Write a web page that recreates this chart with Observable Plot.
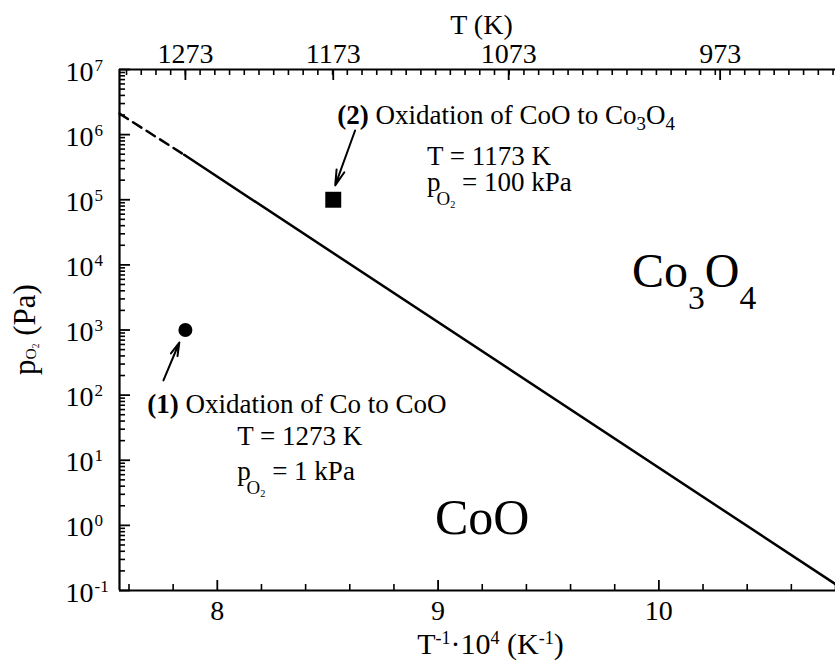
<!DOCTYPE html>
<html><head><meta charset="utf-8">
<script src="https://cdn.jsdelivr.net/npm/d3@7"></script>
<script src="https://cdn.jsdelivr.net/npm/@observablehq/plot@0.6"></script>
<style>
html,body{margin:0;padding:0;background:#fff;}
#chart svg{display:block;}
</style>
</head><body><div id="chart"></div>
<script>
// ---------------- data ----------------
// phase boundary CoO / Co3O4 : x = 10^4/T (1/K), y = pO2 (Pa)
const boundaryInvT = [7.85, 10.80];
const boundaryP    = [4.9e5, 0.125];
// dashed extrapolation of the boundary
const extrapInvT = [7.557, 7.85];
const extrapP    = [2.1e6, 4.9e5];
// oxidation experiments
const expT = [1273, 1173];      // K
const expP = [1e3, 1e5];        // Pa
// tick values
const xTickValues = [8, 9, 10];
const topTickT = [1273, 1173, 1073, 973];
const yExponents = [-1, 0, 1, 2, 3, 4, 5, 6, 7];
// arrows (data coordinates)
const arrowX1 = [7.756, 8.624];
const arrowY1 = [168, 1.156e6];
const arrowX2 = [7.828, 8.534];
const arrowY2 = [643, 1.66e5];
// annotation texts
const labelText = [
  "**(2)** Oxidation of CoO to Co_{3}O_{4}",
  "T = 1173 K",
  "p_{O}__{2} = 100 kPa",
  "**(1)** Oxidation of Co to CoO",
  "T = 1273 K",
  "p_{O}__{2} = 1 kPa",
  "CoO",
  "Co_{3}O_{4}"
];
const labelX = [8.543, 8.950, 8.950, 7.683, 8.090, 8.090, 8.986, 9.878];
const labelY = [1.48e6, 3.36e5, 1.34e5, 54, 16.9, 4.9, 0.75, 4500];
const labelSize = [27, 27, 27, 27, 27, 27, 50, 48];

const xTitle = "T^{-1}·10^{4} (K^{-1})";
const yTitle = "p_{O}__{2} (Pa)";
const topTitle = "T (K)";

// ---------------- layout ----------------
const W = 835, H = 667;
const mL = 119, mR = 0, mT = 69, mB = 77;
const frameW = W - mL - mR, frameH = H - mT - mB;
const FONT = "'Liberation Serif','Times New Roman',Times,serif";

const boundary = boundaryInvT.map((x, i) => ({x, y: boundaryP[i]}));
const extrap = extrapInvT.map((x, i) => ({x, y: extrapP[i]}));
const exps = expT.map((T, i) => ({x: 1e4 / T, y: expP[i]}));
const arrows = arrowX1.map((x1, i) => ({x1, y1: arrowY1[i], x2: arrowX2[i], y2: arrowY2[i]}));
const labels = labelText.map((t, i) => ({t, x: labelX[i], y: labelY[i], s: labelSize[i]}));

const xMinor = d3.range(38, 55).filter(k => k % 5 !== 0).map(k => k / 5);
const yMinor = [];
for (let e = -1; e <= 6; e++) for (let m = 2; m <= 9; m++) yMinor.push(m * 10 ** e);
const topStart = 1e4 / 1273;
const topMinor = d3.range(-4, 45).map(k => topStart + k / 15).filter(v => v > 7.56 && v < 10.8);

const chart = Plot.plot({
  width: W, height: H,
  marginLeft: mL, marginRight: mR, marginTop: mT, marginBottom: mB,
  x: {domain: [7.557, 10.80], axis: null},
  y: {type: "log", domain: [0.1, 1e7], axis: null},
  style: {fontFamily: FONT, background: "#fff", color: "#000", overflow: "visible"},
  marks: [
    // ticks (inward)
    Plot.ruleX(xTickValues, {x: d => d, insetTop: frameH - 10, stroke: "#000", strokeWidth: 1.8}),
    Plot.ruleX(xMinor, {x: d => d, insetTop: frameH - 6, stroke: "#000", strokeWidth: 1.6}),
    Plot.ruleX(topTickT, {x: d => 1e4 / d, insetBottom: frameH - 11, stroke: "#000", strokeWidth: 1.8}),
    Plot.ruleX(topMinor, {x: d => d, insetBottom: frameH - 6, stroke: "#000", strokeWidth: 1.6}),
    Plot.ruleY(yExponents, {y: d => 10 ** d, insetRight: frameW - 11, stroke: "#000", strokeWidth: 1.8}),
    Plot.ruleY(yMinor, {y: d => d, insetRight: frameW - 6, stroke: "#000", strokeWidth: 1.6}),
    // frame lines
    Plot.ruleY([0.1], {stroke: "#000", strokeWidth: 2.2}),
    Plot.ruleY([1e7], {stroke: "#000", strokeWidth: 2.2}),
    Plot.ruleX([7.557], {stroke: "#000", strokeWidth: 2.2}),
    // tick labels
    Plot.text(xTickValues, {x: d => d, frameAnchor: "bottom", dy: 29, lineAnchor: "bottom", text: d => String(d), fontSize: 28}),
    Plot.text(topTickT, {x: d => 1e4 / d, frameAnchor: "top", dy: -7, lineAnchor: "bottom", text: d => String(d), fontSize: 28}),
    Plot.text(yExponents, {y: d => 10 ** d, frameAnchor: "left", dx: -26, dy: 11, textAnchor: "end", lineAnchor: "bottom", text: () => "10", fontSize: 28}),
    Plot.text(yExponents, {y: d => 10 ** d, frameAnchor: "left", dx: -25, dy: 1, textAnchor: "start", lineAnchor: "bottom", text: d => String(d), fontSize: 17}),
    // axis titles
    Plot.text([topTitle], {frameAnchor: "top", dx: 4, dy: -36, lineAnchor: "bottom", textAnchor: "middle", text: d => d, fontSize: 28}),
    Plot.text([xTitle], {frameAnchor: "bottom", dx: 13, dy: 63, lineAnchor: "bottom", textAnchor: "middle", text: d => d, fontSize: 30}),
    Plot.text([yTitle], {frameAnchor: "left", dx: -85, dy: -0.5, rotate: -90, lineAnchor: "bottom", textAnchor: "middle", text: d => d, fontSize: 31}),
    // boundary
    Plot.line(extrap, {x: "x", y: "y", stroke: "#000", strokeWidth: 2.5, strokeDasharray: "10,6"}),
    Plot.line(boundary, {x: "x", y: "y", stroke: "#000", strokeWidth: 2.5}),
    // experiments
    Plot.dot([exps[0]], {x: "x", y: "y", r: 7, fill: "#000", symbol: "circle"}),
    Plot.dot([exps[1]], {x: "x", y: "y", r: 9, fill: "#000", symbol: "square"}),
    // arrows
    Plot.arrow(arrows, {x1: "x1", y1: "y1", x2: "x2", y2: "y2", stroke: "#000", strokeWidth: 2, headLength: 12, headAngle: 30}),
    // annotations
    Plot.text(labels, {x: "x", y: "y", text: "t", fontSize: "s", textAnchor: "start", lineAnchor: "bottom"})
  ]
});

document.getElementById("chart").appendChild(chart);

// ---------- rich text: sub/superscripts, bold ----------
const RICH_DEFAULT = {subScale: 0.7, subShift: 0.25, subDx: 0, subsubScale: 0.4, subsubShift: 0.6, supScale: 0.6, supShift: 0.35};
const RICH_OPTS = {
  "**(2)** Oxidation of CoO to Co_{3}O_{4}": {subScale: 0.7, subShift: 0.24},
  "p_{O}__{2} = 100 kPa": {subScale: 0.7, subShift: 0.5, subDx: -0.15, subsubScale: 0.38, subsubShift: 0.62},
  "p_{O}__{2} = 1 kPa": {subScale: 0.7, subShift: 0.5, subDx: -0.15, subsubScale: 0.38, subsubShift: 0.62},
  "Co_{3}O_{4}": {subScale: 0.7, subShift: 0.44},
  [yTitle]: {subScale: 0.5, subShift: 0.05, subsubScale: 0.3, subsubShift: 0.15},
  [xTitle]: {supScale: 0.6, supShift: 0.33}
};
const NS = "http://www.w3.org/2000/svg";
chart.querySelectorAll("text").forEach(el => {
  const s = el.textContent;
  if (!/(\*\*|_\{|\^\{)/.test(s)) return;
  const opt = Object.assign({}, RICH_DEFAULT, RICH_OPTS[s] || {});
  const fs = parseFloat(getComputedStyle(el).fontSize) || 27;
  const parts = s.split(/(\*\*[^*]+\*\*|__\{[^}]*\}|_\{[^}]*\}|\^\{[^}]*\})/g).filter(p => p !== "");
  el.textContent = "";
  let cur = 0;
  for (const p of parts) {
    let txt = p, shift = 0, scale = 1, bold = false, dx = 0;
    if (p.startsWith("**")) { txt = p.slice(2, -2); bold = true; }
    else if (p.startsWith("__{")) { txt = p.slice(3, -1); shift = opt.subsubShift; scale = opt.subsubScale; }
    else if (p.startsWith("_{")) { txt = p.slice(2, -1); shift = opt.subShift; scale = opt.subScale; dx = opt.subDx; }
    else if (p.startsWith("^{")) { txt = p.slice(2, -1); shift = -opt.supShift; scale = opt.supScale; }
    const t = document.createElementNS(NS, "tspan");
    const target = shift * fs;
    if (target !== cur) t.setAttribute("dy", (target - cur).toFixed(2));
    cur = target;
    if (dx) t.setAttribute("dx", (dx * fs).toFixed(2));
    if (scale !== 1) t.setAttribute("font-size", (scale * fs).toFixed(2) + "px");
    if (bold) t.setAttribute("font-weight", "bold");
    t.textContent = txt;
    el.appendChild(t);
  }
});
</script>
</body></html>
